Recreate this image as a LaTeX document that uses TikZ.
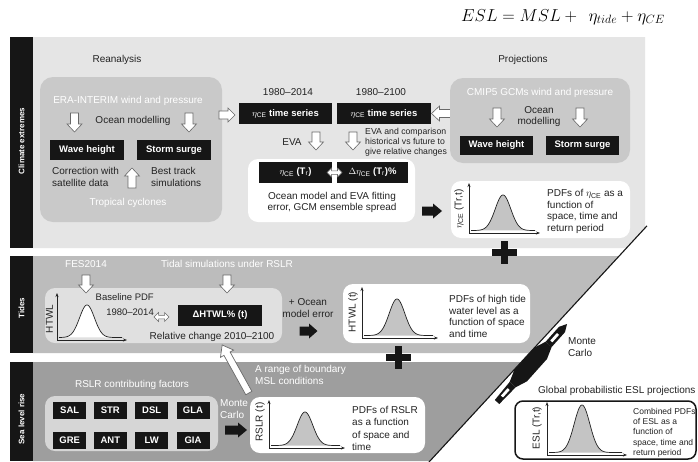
\documentclass[tikz,border=0pt]{standalone}
\usepackage{fontspec}
\setmainfont{Liberation Sans}
\usetikzlibrary{arrows.meta}

\definecolor{bandA}{RGB}{229,229,229}
\definecolor{bandB}{RGB}{188,188,188}
\definecolor{bandC}{RGB}{158,158,158}
\definecolor{boxA}{RGB}{201,201,201}
\definecolor{boxB}{RGB}{224,224,224}
\definecolor{boxC}{RGB}{214,214,214}
\definecolor{ink}{RGB}{35,35,35}
\definecolor{barblack}{RGB}{22,22,22}
\definecolor{bellgray}{RGB}{196,196,196}
\definecolor{arrowline}{RGB}{105,105,105}

% axes with a bell-shaped PDF: origin x, origin y, axis top y, axis end x, peak x, peak y, spread, fill
\newcommand{\bellchart}[8]{%
  \pgfmathsetmacro\bcA{#1+2}%
  \pgfmathsetmacro\bcB{#4-5}%
  \pgfmathsetmacro\bcY{#2-2.5}%
  \fill[#8] plot[domain=\bcA:\bcB,samples=90,smooth]
     (\x,{\bcY-(\bcY-#6)*exp(-((\x-#5)/#7)*((\x-#5)/#7))}) -- cycle;
  \draw[ink,line width=0.7pt] plot[domain=\bcA:\bcB,samples=90,smooth]
     (\x,{\bcY-(\bcY-#6)*exp(-((\x-#5)/#7)*((\x-#5)/#7))});
  \draw[ink,line width=0.6pt,-{Stealth[length=4pt,width=3pt]}] (#1,#2) -- (#1,#3);
  \draw[ink,line width=0.6pt,-{Stealth[length=4pt,width=3pt]}] (#1,#2) -- (#4,#2);
}

% block arrow: style, centre x, centre y, angle, length, shaft width, head width, head length
\newcommand{\blockarrow}[8]{%
  \begin{scope}[shift={(#2,#3)}, rotate=#4]
    \path[#1] ({-#5/2},{-#6/2}) -- ({#5/2-#8},{-#6/2}) -- ({#5/2-#8},{-#7/2}) -- ({#5/2},0)
      -- ({#5/2-#8},{#7/2}) -- ({#5/2-#8},{#6/2}) -- ({-#5/2},{#6/2}) -- cycle;
  \end{scope}}

% two-headed block arrow: style, centre x, centre y, length, shaft width, head width, head length
\newcommand{\twinarrow}[7]{%
  \begin{scope}[shift={(#2,#3)}]
    \path[#1] ({-#4/2},0) -- ({-#4/2+#7},{-#6/2}) -- ({-#4/2+#7},{-#5/2}) -- ({#4/2-#7},{-#5/2})
      -- ({#4/2-#7},{-#6/2}) -- ({#4/2},0) -- ({#4/2-#7},{#6/2}) -- ({#4/2-#7},{#5/2})
      -- ({-#4/2+#7},{#5/2}) -- ({-#4/2+#7},{#6/2}) -- cycle;
  \end{scope}}

\begin{document}
\begin{tikzpicture}[x=1pt,y=-1pt,
  tx/.style={text=ink, inner sep=0pt, font=\fontsize{10}{11.7}\selectfont, align=center},
  wtx/.style={tx, text=white},
  smalltx/.style={tx, font=\fontsize{8.7}{10}\selectfont},
  bbox/.style={fill=barblack, text=white, inner sep=0pt, font=\bfseries\fontsize{9.5}{11}\selectfont},
  barlabel/.style={text=white, inner sep=0pt, rotate=90, font=\bfseries\fontsize{8}{9}\selectfont},
  axlabel/.style={tx, rotate=90},
  hollow/.style={draw=arrowline, fill=white, line width=0.6pt, line join=miter},
  solid/.style={fill=barblack},
  greybox/.style={rounded corners=13pt, inner sep=0pt},
  whitebox/.style={fill=white, rounded corners=10pt, inner sep=0pt}]

\useasboundingbox (0,0) rectangle (698,461);
\fill[white] (0,0) rectangle (698,461);

% ---------- bands ----------
\fill[bandA] (33,37) -- (645,37) -- (645,228) -- (626.6,248) -- (33,248) -- cycle;
\fill[bandB] (33,256) -- (619.2,256) -- (529.7,353) -- (33,353) -- cycle;
\fill[bandC] (33,362) -- (521.5,362) -- (430.2,461) -- (33,461) -- cycle;
\fill[barblack] (10,37) rectangle (33,248);
\fill[barblack] (10,256) rectangle (33,353);
\fill[barblack] (10,362) rectangle (33,461);
\node[barlabel] (lclim) at (21.5,141) {Climate extremes};
\node[barlabel] (ltide) at (21.5,308) {Tides};
\node[barlabel] (lslr) at (21.5,419) {Sea level rise};
\draw[barblack, line width=1.1pt] (647,225.8) -- (429,462);

% ---------- equation ----------
\node[anchor=west, inner sep=0pt, text=black, font=\fontsize{18}{20}\selectfont] (eq) at (461,17)
  {$ESL = MSL +\;\, \eta_{tide} + \eta_{CE}$};

% ---------- climate extremes ----------
\node[tx] (rean) at (117,60) {Reanalysis};
\node[greybox, fill=boxA, minimum width=182pt, minimum height=145pt] (reanbox) at (131,149.5) {};
\node[wtx] (era) at (128,101) {ERA-INTERIM wind and pressure};
\node[tx] (ocm1) at (133,121) {Ocean modelling};
\blockarrow{hollow}{74.5}{122.5}{-90}{19}{8}{15}{8}
\blockarrow{hollow}{189}{122.5}{-90}{19}{8}{15}{8}
\node[bbox, minimum width=74pt, minimum height=20pt] (wh1) at (87,150) {Wave height};
\node[bbox, minimum width=74pt, minimum height=20pt] (ss1) at (174,150) {Storm surge};
\node[tx, align=left, anchor=west] (corr) at (52,177) {Correction with\\satellite data};
\blockarrow{hollow}{132}{178}{90}{20}{8}{15}{8}
\node[tx, align=left, anchor=west] (best) at (151,177) {Best track\\simulations};
\node[wtx] (tropc) at (128,203) {Tropical cyclones};

\blockarrow{hollow}{227}{115}{0}{16}{8}{14}{7}
\node[tx] (y1) at (288,92) {1980--2014};
\node[tx] (y2) at (381,92) {1980--2100};
\node[bbox, minimum width=93pt, minimum height=21pt] (ts1) at (285.5,113.5) {$\eta_{\mathrm{CE}}$ time series};
\node[bbox, minimum width=94pt, minimum height=21pt] (ts2) at (384,113.5) {$\eta_{\mathrm{CE}}$ time series};
\blockarrow{hollow}{441.5}{113.5}{180}{20}{8}{15}{8}
\node[tx] (eva) at (292,142) {EVA};
\blockarrow{hollow}{316}{141}{-90}{18}{8}{15}{8}
\blockarrow{hollow}{353}{141}{-90}{18}{8}{15}{8}
\node[smalltx, align=left, anchor=west] (evacmp) at (365,142)
  {EVA and comparison\\historical vs future to\\give relative changes};
\node[whitebox, minimum width=167pt, minimum height=63pt] (evabox) at (331.5,190.5) {};
\node[bbox, minimum width=73pt, minimum height=21pt] (etr) at (295.5,172.5) {$\eta_{\mathrm{CE}}$ (T$_{\mathrm{r}}$)};
\node[bbox, minimum width=71pt, minimum height=21pt] (detr) at (372.5,172.5) {$\Delta\eta_{\mathrm{CE}}$ (T$_{\mathrm{r}}$)\%};
\twinarrow{hollow, line width=0.5pt}{334.5}{172.5}{15}{3.5}{9}{4.5}
\node[tx] (fit) at (332,202.5) {Ocean model and EVA fitting\\error, GCM ensemble spread};
\blockarrow{solid}{432}{211}{0}{20}{9}{15}{9}

\node[tx] (proj) at (523,60) {Projections};
\node[greybox, fill=boxA, minimum width=180pt, minimum height=85pt] (projbox) at (540,120.5) {};
\node[wtx] (cmip) at (540,93) {CMIP5 GCMs wind and pressure};
\node[tx] (ocm2) at (539,116.5) {Ocean\\modelling};
\blockarrow{hollow}{497}{117.5}{-90}{19}{8}{15}{8}
\blockarrow{hollow}{580}{117.5}{-90}{19}{8}{15}{8}
\node[bbox, minimum width=73pt, minimum height=19pt] (wh2) at (496.5,145.5) {Wave height};
\node[bbox, minimum width=73pt, minimum height=19pt] (ss2) at (582.5,145.5) {Storm surge};

\node[whitebox, minimum width=179pt, minimum height=57pt] (cepdf) at (540.5,209.5) {};
\bellchart{469}{233}{183}{540}{503}{195}{11}{bellgray}
\node[axlabel] (ceax) at (459,209) {$\eta_{\mathrm{CE}}$ (Tr,t)};
\node[tx, align=left, anchor=west] (cetxt) at (547,211.5)
  {PDFs of $\eta_{\mathrm{CE}}$ as a\\function of\\space, time and\\return period};

% plus signs
\fill[barblack] (491.5,248.5) rectangle (516.5,255.5);
\fill[barblack] (500.5,240.5) rectangle (507.5,263.5);
\fill[barblack] (385.5,353.5) rectangle (410.5,360.5);
\fill[barblack] (394.5,345.5) rectangle (401.5,368.5);

% ---------- tides ----------
\node[wtx] (fes) at (86,264) {FES2014};
\node[wtx] (tsim) at (227,264) {Tidal simulations under RSLR};
\node[greybox, rounded corners=10pt, fill=boxB, minimum width=237pt, minimum height=55pt] (tidebox) at (163.5,315.5) {};
\blockarrow{hollow}{86}{284}{-90}{18}{8}{15}{8}
\blockarrow{hollow}{227}{284}{-90}{18}{8}{15}{8}
\bellchart{57}{340}{293}{127}{87}{305}{10.5}{white}
\node[axlabel] (htwlax) at (49.5,319) {HTWL};
\node[tx, align=right, anchor=east, font=\fontsize{9.5}{14.5}\selectfont] (basepdf) at (154,304.5) {Baseline PDF\\1980--2014};
\twinarrow{hollow, line width=0.5pt}{161.5}{317}{15}{3.5}{9}{4.5}
\node[bbox, minimum width=84pt, minimum height=21pt] (dhtwl) at (220,315.5) {ΔHTWL\% (t)};
\node[tx] (relch) at (212,337) {Relative change 2010--2100};
\node[tx] (oerr) at (308,308) {+ Ocean\\model error};
\blockarrow{solid}{308.5}{331}{0}{18}{9}{15}{8.5}

\node[whitebox, minimum width=187pt, minimum height=59pt] (tidepdf) at (436.5,313.5) {};
\bellchart{362}{338}{287}{438}{397}{299}{11}{bellgray}
\node[axlabel] (htwlt) at (353,312) {HTWL (t)};
\node[tx, align=left, anchor=west] (tidetxt) at (449,316.5)
  {PDFs of high tide\\water level as a\\function of space\\and time};

% Monte Carlo pen lying on the diagonal
\fill[barblack] (567,324) -- (564.98,332.14) -- (551.64,347.04) -- (545.68,341.7) -- (559.02,326.8) -- cycle;
\fill[barblack] (551.64,347.04) -- (546.98,358.98) -- (526.97,381.33) -- (515.62,387.27)
  -- (509.66,381.93) -- (514.31,369.99) -- (534.32,347.64) -- (545.68,341.7) -- cycle;
\fill[barblack] (509.66,381.93) -- (515.62,387.27) -- (499.3,404.0) -- (494.8,400.0) -- cycle;
\draw[white, line width=2.8pt] (558,333.94) -- (551.33,341.39);
\draw[white, line width=2.8pt] (508.64,389.07) -- (501.97,396.52);
\node[tx, align=left, anchor=west] (mc1) at (568,347) {Monte\\Carlo};

% ---------- sea level rise ----------
\node[wtx] (rslrf) at (132,385) {RSLR contributing factors};
\node[greybox, rounded corners=10pt, fill=boxC, minimum width=173pt, minimum height=55pt] (slrbox) at (131.5,423.5) {};
\node[bbox, minimum width=33pt, minimum height=17.5pt] (f1) at (69.7,410.5) {SAL};
\node[bbox, minimum width=33pt, minimum height=17.5pt] (f2) at (110.3,410.5) {STR};
\node[bbox, minimum width=33pt, minimum height=17.5pt] (f3) at (151.7,410.5) {DSL};
\node[bbox, minimum width=33pt, minimum height=17.5pt] (f4) at (193,410.5) {GLA};
\node[bbox, minimum width=33pt, minimum height=17.5pt] (f5) at (69.7,440.5) {GRE};
\node[bbox, minimum width=33pt, minimum height=17.5pt] (f6) at (110.3,440.5) {ANT};
\node[bbox, minimum width=33pt, minimum height=17.5pt] (f7) at (151.7,440.5) {LW};
\node[bbox, minimum width=33pt, minimum height=17.5pt] (f8) at (193,440.5) {GIA};
\node[wtx, align=left, anchor=west] (mc2) at (220,409) {Monte\\Carlo};
\blockarrow{solid}{236}{430}{0}{22}{9}{15}{9}
\node[wtx, align=left, anchor=west] (bnd) at (255,375) {A range of boundary\\MSL conditions};

\node[whitebox, minimum width=175pt, minimum height=56pt] (rslrpdf) at (337.5,425) {};
\bellchart{269}{448}{400}{345}{305}{412}{11}{bellgray}
\node[axlabel] (rslrax) at (260,422) {RSLR (t)};
\node[tx, align=left, anchor=west, font=\fontsize{10}{12.3}\selectfont] (rslrtxt) at (352,428.5)
  {PDFs of RSLR\\as a function\\of space and\\time};

\blockarrow{hollow, line width=0.7pt}{235.5}{369}{119}{55}{7}{15}{10}

% ---------- global ESL ----------
\node[tx, anchor=west] (glob) at (538,391) {Global probabilistic ESL projections};
\node[draw=barblack, line width=1.5pt, fill=white, rounded corners=8pt, inner sep=0pt,
      minimum width=181pt, minimum height=58pt] (eslbox) at (605.5,430) {};
\bellchart{547}{455}{402}{627}{582}{405}{11}{bellgray}
\node[axlabel] (eslax) at (537,428) {ESL (Tr,t)};
\node[tx, align=left, anchor=west, font=\fontsize{8.5}{10.3}\selectfont] (esltxt) at (633,432.6)
  {Combined PDFs\\of ESL as a\\function of\\space, time and\\return period};

\end{tikzpicture}
\end{document}
